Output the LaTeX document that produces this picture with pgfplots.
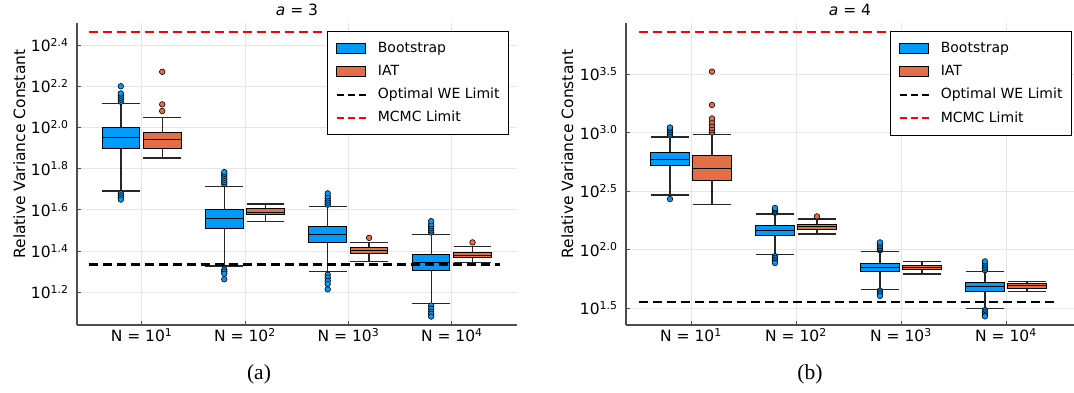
\documentclass[border=0pt]{standalone}
\usepackage{fontspec}
\setmainfont{DejaVu Sans}
\newfontfamily\capfont{Liberation Serif}
\usepackage{pgfplots}
\pgfplotsset{compat=1.18}
\usepgfplotslibrary{statistics}
\definecolor{bsblue}{HTML}{009AFA}
\definecolor{iatorange}{HTML}{E36F47}
\definecolor{gridgray}{HTML}{E6E6E6}
\definecolor{axgray}{HTML}{4D4D4D}

\pgfplotsset{
  bs/.style={boxplot prepared={#1, box extend=0.364, whisker extend=0.364},
    draw=black, line width=1pt, fill=bsblue, mark=*, mark size=2.8pt,
    mark options={fill=bsblue, draw=black, line width=0.6pt, solid}, forget plot},
  iat/.style={boxplot prepared={#1, box extend=0.364, whisker extend=0.364},
    draw=black, line width=1pt, fill=iatorange, mark=*, mark size=2.8pt,
    mark options={fill=iatorange, draw=black, line width=0.6pt, solid}, forget plot},
  boxleg/.style={legend image code/.code={\draw[##1] (0pt,-5pt) rectangle (29pt,5pt);}},
  lineleg/.style={legend image code/.code={\draw[##1] (0pt,0pt) -- (29pt,0pt);}},
  myaxis/.style={
    scale only axis, height=302pt, clip=false,
    boxplot/draw direction=y,
    axis lines=left, axis line style={-, axgray, line width=1.2pt},
    grid=major, major grid style={gridgray, line width=0.8pt},
    tick align=inside, major tick length=4pt, tick style={axgray, line width=0.8pt},
    xtick={1,2,3,4},
    xticklabels={N = 10\textsuperscript{1}, N = 10\textsuperscript{2}, N = 10\textsuperscript{3}, N = 10\textsuperscript{4}},
    ticklabel style={font=\fontsize{15.5}{18}\selectfont},
    yticklabel style={xshift=-5pt},
    ylabel={Relative Variance Constant},
    ylabel style={font=\fontsize{15.5}{18}\selectfont, anchor=base},
    legend cell align=left,
    legend style={draw=black, line width=1pt, fill=white, font=\fontsize{14}{16}\selectfont,
      inner xsep=8pt, inner ysep=9.5pt, row sep=8.2pt,
      nodes={inner sep=1pt, text height=10.5pt, text depth=2.5pt},
      /tikz/every odd column/.append style={column sep=10pt}},
    boxplot/every median/.style={black, line width=1pt},
    boxplot/every whisker/.style={black!85, line width=1.3pt},
  }
}

\begin{document}
\begin{tikzpicture}
\path[use as bounding box] (0,0) rectangle (1074pt,393pt);

% ---------------- (a) a = 3 ----------------
\begin{axis}[myaxis, at={(77pt,68pt)}, anchor=south west, width=440pt,
  xmin=0.376, xmax=4.63, ymin=1.041, ymax=2.507,
  ytick={1.2,1.4,1.6,1.8,2.0,2.2,2.4},
  yticklabels={10\textsuperscript{1.2},10\textsuperscript{1.4},10\textsuperscript{1.6},10\textsuperscript{1.8},10\textsuperscript{2.0},10\textsuperscript{2.2},10\textsuperscript{2.4}},
  ylabel style={at={(axis description cs:-0.118,0.566)}},
  legend style={at={(axis description cs:0.982,0.9745)}, anchor=north east}]
\addlegendimage{boxleg, draw=black, line width=1pt, fill=bsblue}
\addlegendentry{Bootstrap}
\addlegendimage{boxleg, draw=black, line width=1pt, fill=iatorange}
\addlegendentry{IAT}
\addlegendimage{lineleg, black, line width=2pt, dash pattern=on 7pt off 4pt}
\addlegendentry{Optimal WE Limit}
\addlegendimage{lineleg, red, line width=2pt, dash pattern=on 7pt off 4pt}
\addlegendentry{MCMC Limit}

\addplot[bs={draw position=0.8, lower whisker=1.692, lower quartile=1.900, median=1.953, upper quartile=2.000, upper whisker=2.117}]
  coordinates {(0,2.125) (0,2.135) (0,2.145) (0,2.155) (0,2.165) (0,2.200) (0,1.680) (0,1.670) (0,1.660) (0,1.650)};
\addplot[iat={draw position=1.2, lower whisker=1.852, lower quartile=1.900, median=1.942, upper quartile=1.976, upper whisker=2.047}]
  coordinates {(0,2.270) (0,2.112) (0,2.080)};
\addplot[bs={draw position=1.8, lower whisker=1.327, lower quartile=1.511, median=1.557, upper quartile=1.603, upper whisker=1.715}]
  coordinates {(0,1.725) (0,1.735) (0,1.745) (0,1.755) (0,1.765) (0,1.775) (0,1.783) (0,1.310) (0,1.300) (0,1.290) (0,1.263)};
\addplot[iat={draw position=2.2, lower whisker=1.545, lower quartile=1.576, median=1.588, upper quartile=1.605, upper whisker=1.629}]
  coordinates {};
\addplot[bs={draw position=2.8, lower whisker=1.300, lower quartile=1.442, median=1.480, upper quartile=1.520, upper whisker=1.616}]
  coordinates {(0,1.625) (0,1.635) (0,1.645) (0,1.655) (0,1.665) (0,1.680) (0,1.285) (0,1.270) (0,1.255) (0,1.240) (0,1.214)};
\addplot[iat={draw position=3.2, lower whisker=1.348, lower quartile=1.389, median=1.402, upper quartile=1.416, upper whisker=1.440}]
  coordinates {(0,1.464)};
\addplot[bs={draw position=3.8, lower whisker=1.147, lower quartile=1.304, median=1.346, upper quartile=1.385, upper whisker=1.480}]
  coordinates {(0,1.490) (0,1.500) (0,1.510) (0,1.520) (0,1.530) (0,1.545) (0,1.135) (0,1.120) (0,1.105) (0,1.095) (0,1.082)};
\addplot[iat={draw position=4.2, lower whisker=1.345, lower quartile=1.367, median=1.378, upper quartile=1.393, upper whisker=1.421}]
  coordinates {(0,1.442)};

\addplot[black, line width=2.2pt, dash pattern=on 9pt off 5pt, forget plot] coordinates {(0.49,1.335) (4.47,1.335)};
\addplot[red, line width=2.2pt, dash pattern=on 9pt off 5pt, forget plot] coordinates {(0.49,2.465) (4.47,2.465)};
\node[font=\fontsize{15.5}{18}\selectfont, anchor=base, yshift=7pt] at (rel axis cs:0.5,1) {\textit{a} = 3};
\end{axis}

% ---------------- (b) a = 4 ----------------
\begin{axis}[myaxis, at={(626pt,68pt)}, anchor=south west, width=448pt,
  xmin=0.381, xmax=4.648, ymin=1.357, ymax=3.935,
  ytick={1.5,2.0,2.5,3.0,3.5},
  yticklabels={10\textsuperscript{1.5},10\textsuperscript{2.0},10\textsuperscript{2.5},10\textsuperscript{3.0},10\textsuperscript{3.5}},
  ylabel style={at={(axis description cs:-0.118,0.566)}},
  legend style={at={(axis description cs:0.9955,0.9735)}, anchor=north east}]
\addlegendimage{boxleg, draw=black, line width=1pt, fill=bsblue}
\addlegendentry{Bootstrap}
\addlegendimage{boxleg, draw=black, line width=1pt, fill=iatorange}
\addlegendentry{IAT}
\addlegendimage{lineleg, black, line width=2pt, dash pattern=on 7pt off 4pt}
\addlegendentry{Optimal WE Limit}
\addlegendimage{lineleg, red, line width=2pt, dash pattern=on 7pt off 4pt}
\addlegendentry{MCMC Limit}

\addplot[bs={draw position=0.8, lower whisker=2.466, lower quartile=2.716, median=2.772, upper quartile=2.829, upper whisker=2.961}]
  coordinates {(0,2.975) (0,2.990) (0,3.005) (0,3.020) (0,3.035) (0,3.043) (0,2.432)};
\addplot[iat={draw position=1.2, lower whisker=2.386, lower quartile=2.590, median=2.690, upper quartile=2.806, upper whisker=2.986}]
  coordinates {(0,3.000) (0,3.020) (0,3.040) (0,3.065) (0,3.090) (0,3.120) (0,3.235) (0,3.520)};
\addplot[bs={draw position=1.8, lower whisker=1.957, lower quartile=2.122, median=2.162, upper quartile=2.205, upper whisker=2.305}]
  coordinates {(0,2.315) (0,2.325) (0,2.335) (0,2.345) (0,2.356) (0,1.945) (0,1.930) (0,1.915) (0,1.900) (0,1.886)};
\addplot[iat={draw position=2.2, lower whisker=2.134, lower quartile=2.176, median=2.198, upper quartile=2.219, upper whisker=2.262}]
  coordinates {(0,2.284)};
\addplot[bs={draw position=2.8, lower whisker=1.662, lower quartile=1.810, median=1.849, upper quartile=1.886, upper whisker=1.986}]
  coordinates {(0,1.995) (0,2.005) (0,2.015) (0,2.030) (0,2.045) (0,2.062) (0,1.650) (0,1.635) (0,1.620) (0,1.605)};
\addplot[iat={draw position=3.2, lower whisker=1.792, lower quartile=1.829, median=1.846, upper quartile=1.863, upper whisker=1.900}]
  coordinates {};
\addplot[bs={draw position=3.8, lower whisker=1.497, lower quartile=1.644, median=1.684, upper quartile=1.721, upper whisker=1.815}]
  coordinates {(0,1.825) (0,1.840) (0,1.855) (0,1.870) (0,1.885) (0,1.900) (0,1.485) (0,1.470) (0,1.455) (0,1.440) (0,1.431)};
\addplot[iat={draw position=4.2, lower whisker=1.644, lower quartile=1.670, median=1.690, upper quartile=1.707, upper whisker=1.730}]
  coordinates {};

\addplot[black, line width=2.2pt, dash pattern=on 9pt off 5pt, forget plot] coordinates {(0.505,1.551) (4.47,1.551)};
\addplot[red, line width=2.2pt, dash pattern=on 9pt off 5pt, forget plot] coordinates {(0.505,3.861) (4.47,3.861)};
\node[font=\fontsize{15.5}{18}\selectfont, anchor=base, yshift=7pt] at (rel axis cs:0.5,1) {\textit{a} = 4};
\end{axis}

\node[font=\capfont\fontsize{21.5}{24}\selectfont, anchor=base] at (259pt,13pt) {(a)};
\node[font=\capfont\fontsize{21.5}{24}\selectfont, anchor=base] at (810pt,13pt) {(b)};
\end{tikzpicture}
\end{document}
